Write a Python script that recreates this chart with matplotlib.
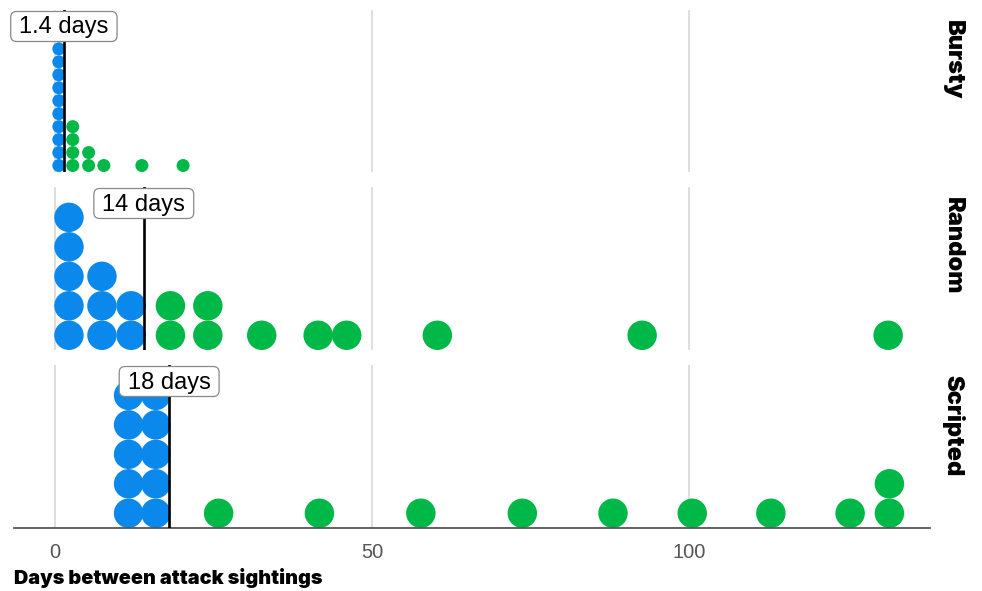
import matplotlib
matplotlib.use("Agg")
import matplotlib.pyplot as plt
from matplotlib.patches import FancyBboxPatch

# ---------------- data ----------------
panels = ["Bursty", "Random", "Scripted"]

bursty_x = [0.6, 2.8, 5.3, 7.7, 13.7, 20.2]
bursty_blue = [10, 0, 0, 0, 0, 0]
bursty_green = [1, 4, 2, 1, 1, 1]

random_x = [2.2, 7.4, 12.0, 18.2, 24.1, 32.6, 41.5, 46.0, 60.3, 92.6, 131.4]
random_blue = [5, 3, 2, 0, 0, 0, 0, 0, 0, 0, 0]
random_green = [0, 0, 0, 2, 2, 1, 1, 1, 1, 1, 1]

scripted_x = [11.6, 15.9, 25.8, 41.7, 57.7, 73.7, 88.0, 100.5, 112.9, 125.4, 131.6]
scripted_blue = [5, 5, 0, 0, 0, 0, 0, 0, 0, 0, 0]
scripted_green = [0, 0, 1, 1, 1, 1, 1, 1, 1, 1, 2]

medians = [1.4, 14, 18]
median_labels = ["1.4 days", "14 days", "18 days"]
xticks = [0, 50, 100]
xlabel = "Days between attack sightings"

# ---------------- style ----------------
BLUE = "#0A88EC"
GREEN = "#00B847"
W, H = 982, 591
DPI = 100
fig = plt.figure(figsize=(W / DPI, H / DPI), dpi=DPI)
plt.rcParams["font.family"] = ["Liberation Sans", "DejaVu Sans"]
HEAVY = ["Inter", "Roboto", "DejaVu Sans"]

x0, x1 = 14, 930
panel_px = [(10, 172), (187, 350), (365, 528)]
ylims = [12.5, 5.53, 5.53]
msizes = [9.36 ** 2, 21.2 ** 2, 21.2 ** 2]

data = [(bursty_x, bursty_blue, bursty_green),
        (random_x, random_blue, random_green),
        (scripted_x, scripted_blue, scripted_green)]

axes = []
for i, (name, (top, bot)) in enumerate(zip(panels, panel_px)):
    ax = fig.add_axes([x0 / W, 1 - bot / H, (x1 - x0) / W, (bot - top) / H])
    axes.append(ax)
    ax.set_xlim(-6.47, 138.0)
    ax.set_ylim(0, ylims[i])
    for s in ax.spines.values():
        s.set_visible(False)
    ax.set_yticks([])
    for t in xticks:
        ax.axvline(t, color="#dcdcdc", lw=1.3, zorder=0)
    xs_all, ys_all, cs_all = [], [], []
    xs, blues, greens = data[i]
    for x, nb, ng in zip(xs, blues, greens):
        for k in range(nb + ng):
            xs_all.append(x)
            ys_all.append(k + 0.5)
            cs_all.append(BLUE if k < nb else GREEN)
    ax.scatter(xs_all, ys_all, s=msizes[i], c=cs_all, linewidths=0, zorder=2)
    ax.axvline(medians[i], color="black", lw=1.9, zorder=3)
    if i < 2:
        ax.set_xticks([])
    else:
        ax.set_xticks(xticks)
        ax.tick_params(axis="x", length=0, pad=11, labelsize=14.5, labelcolor="#555555")
        ax.spines["bottom"].set_visible(True)
        ax.spines["bottom"].set_color("#555555")
        ax.spines["bottom"].set_linewidth(1.3)
    # facet label
    fig.text(953 / W, 1 - (top + 10) / H, name, rotation=270, ha="center", va="top",
             fontsize=17, fontweight="black", family=HEAVY, color="black")

# median label boxes
fig.canvas.draw()
renderer = fig.canvas.get_renderer()
for i, ax in enumerate(axes):
    top = panel_px[i][0]
    xd = ax.transData.transform((medians[i], 0))[0]
    t = fig.text(xd / W, 1 - (top + 17.5) / H, median_labels[i], ha="center", va="center",
                 fontsize=17, color="black", zorder=10)
    bb = t.get_window_extent(renderer)
    padx = 8.5
    bx0 = bb.x0 - padx
    bw = bb.width + 2 * padx
    by_top = H - (top + 1.5)
    by_bot = H - (top + 31.5)
    patch = FancyBboxPatch((bx0 / W, by_bot / H), bw / W, (by_top - by_bot) / H,
                           boxstyle="round,pad=0,rounding_size=0.006",
                           transform=fig.transFigure, facecolor="white",
                           edgecolor="#888888", linewidth=0.9, zorder=9,
                           mutation_aspect=W / H)
    fig.patches.append(patch)

fig.text(14 / W, 1 - 578 / H, xlabel, ha="left", va="center", fontsize=14.3,
         fontweight="black", family=HEAVY, color="black")

fig.savefig("out.png", dpi=DPI, facecolor="white")
